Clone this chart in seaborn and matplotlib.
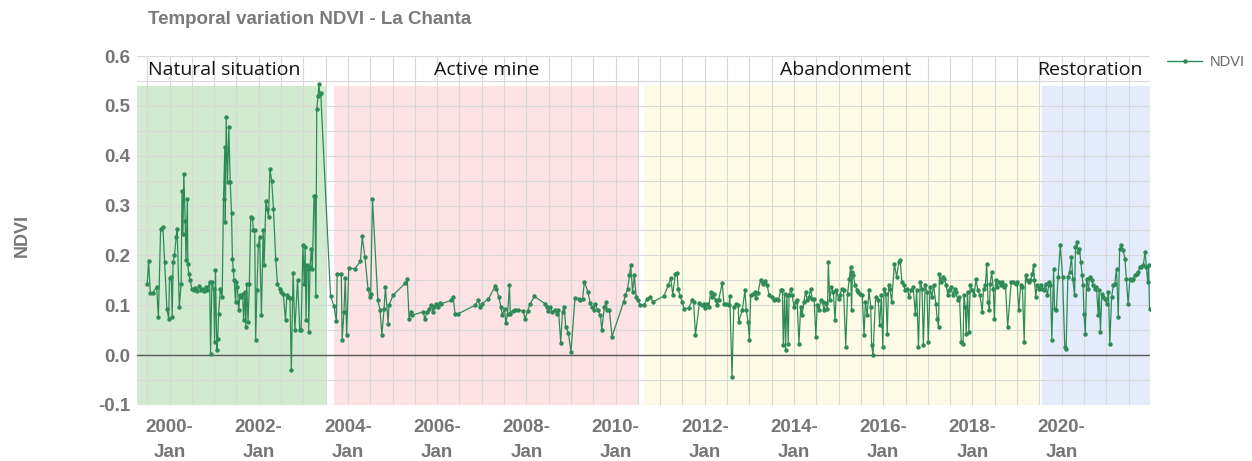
import matplotlib
matplotlib.use("Agg")
import matplotlib.pyplot as plt
from matplotlib.lines import Line2D
from matplotlib.ticker import MultipleLocator
import numpy as np
import pandas as pd
import seaborn as sns

# NDVI series, decimal years, split by period
years_natural = [
    1999.50, 1999.53, 1999.57, 1999.62, 1999.71, 1999.75, 1999.80, 1999.85, 1999.89, 1999.94,
    1999.98, 2000.00, 2000.04, 2000.06, 2000.08, 2000.11, 2000.15, 2000.17, 2000.22, 2000.26,
    2000.28, 2000.30, 2000.32, 2000.35, 2000.37, 2000.40, 2000.41, 2000.43, 2000.46, 2000.50,
    2000.55, 2000.58, 2000.62, 2000.66, 2000.70, 2000.73, 2000.77, 2000.81, 2000.85, 2000.90,
    2000.92, 2000.95, 2000.99, 2001.01, 2001.03, 2001.06, 2001.08, 2001.10, 2001.14, 2001.18,
    2001.21, 2001.24, 2001.25, 2001.27, 2001.30, 2001.33, 2001.36, 2001.39, 2001.41, 2001.43,
    2001.45, 2001.48, 2001.50, 2001.52, 2001.55, 2001.58, 2001.61, 2001.64, 2001.66, 2001.69,
    2001.71, 2001.73, 2001.76, 2001.79, 2001.82, 2001.86, 2001.88, 2001.91, 2001.93, 2001.96,
    2001.99, 2002.02, 2002.06, 2002.10, 2002.12, 2002.16, 2002.19, 2002.22, 2002.25, 2002.29,
    2002.33, 2002.38, 2002.42, 2002.47, 2002.51, 2002.55, 2002.60, 2002.63, 2002.66, 2002.70,
    2002.73, 2002.77, 2002.81, 2002.87, 2002.92, 2002.95, 2002.99, 2003.02, 2003.04, 2003.06,
    2003.08, 2003.11, 2003.12, 2003.15, 2003.18, 2003.20, 2003.24, 2003.26, 2003.28, 2003.30,
    2003.33, 2003.35, 2003.37, 2003.39,
]
ndvi_natural = [
    0.143, 0.188, 0.124, 0.124, 0.137, 0.077, 0.253, 0.257, 0.187, 0.093,
    0.073, 0.154, 0.157, 0.077, 0.187, 0.200, 0.237, 0.253, 0.097, 0.143,
    0.330, 0.243, 0.363, 0.270, 0.190, 0.313, 0.183, 0.163, 0.150, 0.133,
    0.130, 0.135, 0.129, 0.138, 0.131, 0.133, 0.129, 0.137, 0.131, 0.147,
    0.003, 0.147, 0.133, 0.027, 0.170, 0.010, 0.033, 0.083, 0.133, 0.117,
    0.313, 0.417, 0.267, 0.477, 0.347, 0.457, 0.347, 0.285, 0.193, 0.170,
    0.150, 0.107, 0.147, 0.137, 0.090, 0.120, 0.117, 0.123, 0.070, 0.127,
    0.057, 0.143, 0.067, 0.143, 0.277, 0.275, 0.250, 0.250, 0.030, 0.130,
    0.220, 0.237, 0.080, 0.250, 0.180, 0.310, 0.293, 0.277, 0.373, 0.350,
    0.293, 0.193, 0.143, 0.133, 0.127, 0.123, 0.070, 0.120, 0.117, 0.115,
    -0.030, 0.165, 0.050, 0.151, 0.050, 0.050, 0.220, 0.143, 0.217, 0.070,
    0.180, 0.173, 0.047, 0.177, 0.213, 0.173, 0.320, 0.320, 0.118, 0.493,
    0.520, 0.543, 0.523, 0.525,
]

years_active = [
    2003.61, 2003.69, 2003.74, 2003.76, 2003.85, 2003.87, 2003.91, 2003.94, 2003.97, 2004.02,
    2004.15, 2004.28, 2004.32, 2004.38, 2004.45, 2004.49, 2004.51, 2004.55, 2004.67, 2004.72,
    2004.76, 2004.81, 2004.84, 2004.90, 2004.92, 2005.01, 2005.29, 2005.33, 2005.37, 2005.41,
    2005.44, 2005.69, 2005.72, 2005.78, 2005.82, 2005.87, 2005.91, 2005.94, 2005.98, 2006.02,
    2006.06, 2006.09, 2006.32, 2006.36, 2006.40, 2006.47, 2006.85, 2006.92, 2006.96, 2007.01,
    2007.15, 2007.30, 2007.33, 2007.38, 2007.43, 2007.46, 2007.51, 2007.54, 2007.58, 2007.62,
    2007.64, 2007.69, 2007.75, 2007.82, 2007.93, 2007.97, 2008.03, 2008.08, 2008.18, 2008.42,
    2008.46, 2008.49, 2008.53, 2008.58, 2008.64, 2008.68, 2008.72, 2008.77, 2008.81, 2008.85,
    2008.88, 2008.94, 2009.00, 2009.09, 2009.17, 2009.20, 2009.26, 2009.30, 2009.38, 2009.43,
    2009.47, 2009.51, 2009.54, 2009.60, 2009.66, 2009.69, 2009.75, 2009.79, 2009.81, 2009.86,
    2009.92, 2010.18, 2010.22, 2010.27, 2010.31, 2010.34, 2010.38, 2010.42, 2010.46, 2010.50,
    2010.55,
]
ndvi_active = [
    0.118, 0.098, 0.068, 0.163, 0.163, 0.031, 0.087, 0.155, 0.040, 0.175,
    0.173, 0.188, 0.238, 0.197, 0.133, 0.117, 0.122, 0.313, 0.110, 0.090,
    0.040, 0.093, 0.137, 0.063, 0.100, 0.120, 0.145, 0.152, 0.073, 0.087,
    0.080, 0.087, 0.073, 0.087, 0.093, 0.100, 0.087, 0.097, 0.103, 0.097,
    0.105, 0.103, 0.110, 0.117, 0.083, 0.083, 0.100, 0.110, 0.097, 0.103,
    0.113, 0.138, 0.133, 0.117, 0.097, 0.080, 0.093, 0.065, 0.083, 0.140,
    0.083, 0.089, 0.090, 0.090, 0.089, 0.073, 0.089, 0.102, 0.118, 0.103,
    0.097, 0.089, 0.097, 0.087, 0.091, 0.083, 0.090, 0.025, 0.087, 0.097,
    0.057, 0.045, 0.007, 0.115, 0.113, 0.110, 0.113, 0.147, 0.127, 0.105,
    0.097, 0.090, 0.103, 0.090, 0.080, 0.051, 0.097, 0.107, 0.090, 0.091,
    0.037, 0.107, 0.120, 0.133, 0.160, 0.180, 0.127, 0.160, 0.117, 0.110,
    0.100,
]

years_abandon = [
    2010.63, 2010.71, 2010.78, 2010.83, 2011.08, 2011.18, 2011.24, 2011.28, 2011.34, 2011.38,
    2011.40, 2011.45, 2011.49, 2011.54, 2011.64, 2011.72, 2011.75, 2011.79, 2011.88, 2011.93,
    2011.98, 2012.01, 2012.05, 2012.09, 2012.13, 2012.17, 2012.20, 2012.24, 2012.28, 2012.31,
    2012.39, 2012.43, 2012.48, 2012.54, 2012.56, 2012.61, 2012.65, 2012.70, 2012.75, 2012.76,
    2012.84, 2012.90, 2012.93, 2012.97, 2013.00, 2013.03, 2013.08, 2013.12, 2013.15, 2013.19,
    2013.25, 2013.30, 2013.35, 2013.40, 2013.44, 2013.50, 2013.55, 2013.60, 2013.65, 2013.70,
    2013.74, 2013.76, 2013.79, 2013.81, 2013.84, 2013.87, 2013.89, 2013.93, 2013.96, 2014.00,
    2014.04, 2014.07, 2014.11, 2014.15, 2014.18, 2014.22, 2014.26, 2014.30, 2014.34, 2014.37,
    2014.41, 2014.45, 2014.49, 2014.52, 2014.56, 2014.60, 2014.64, 2014.67, 2014.71, 2014.75,
    2014.77, 2014.80, 2014.84, 2014.88, 2014.92, 2014.95, 2015.00, 2015.03, 2015.07, 2015.11,
    2015.16, 2015.20, 2015.24, 2015.27, 2015.29, 2015.31, 2015.33, 2015.37, 2015.41, 2015.44,
    2015.48, 2015.53, 2015.57, 2015.60, 2015.64, 2015.68, 2015.72, 2015.74, 2015.77, 2015.83,
    2015.89, 2015.92, 2015.96, 2015.99, 2016.02, 2016.06, 2016.09, 2016.12, 2016.15, 2016.19,
    2016.25, 2016.30, 2016.35, 2016.38, 2016.42, 2016.46, 2016.49, 2016.54, 2016.58, 2016.62,
    2016.67, 2016.72, 2016.75, 2016.79, 2016.83, 2016.87, 2016.90, 2016.94, 2016.98, 2017.01,
    2017.05, 2017.09, 2017.13, 2017.18, 2017.21, 2017.24, 2017.26, 2017.30, 2017.33, 2017.37,
    2017.41, 2017.45, 2017.48, 2017.52, 2017.56, 2017.60, 2017.63, 2017.67, 2017.71, 2017.75,
    2017.79, 2017.81, 2017.84, 2017.86, 2017.89, 2017.92, 2017.95, 2018.00, 2018.04, 2018.08,
    2018.12, 2018.17, 2018.22, 2018.25, 2018.29, 2018.32, 2018.35, 2018.38, 2018.40, 2018.43,
    2018.47, 2018.49, 2018.52, 2018.55, 2018.59, 2018.63, 2018.66, 2018.70, 2018.74, 2018.79,
    2018.87, 2018.92, 2018.97, 2019.00, 2019.04, 2019.08, 2019.12, 2019.16, 2019.19, 2019.23,
    2019.27, 2019.30, 2019.34, 2019.37, 2019.39, 2019.42, 2019.45, 2019.49,
]
ndvi_abandon = [
    0.100, 0.113, 0.117, 0.107, 0.118, 0.140, 0.155, 0.120, 0.163, 0.165,
    0.133, 0.118, 0.107, 0.093, 0.095, 0.110, 0.107, 0.040, 0.105, 0.100,
    0.103, 0.095, 0.103, 0.097, 0.127, 0.117, 0.123, 0.110, 0.100, 0.110,
    0.145, 0.103, 0.102, 0.100, 0.118, -0.043, 0.097, 0.103, 0.100, 0.067,
    0.090, 0.130, 0.090, 0.067, 0.030, 0.120, 0.122, 0.127, 0.115, 0.125,
    0.150, 0.142, 0.149, 0.140, 0.120, 0.117, 0.111, 0.113, 0.110, 0.130,
    0.131, 0.020, 0.123, 0.011, 0.120, 0.023, 0.120, 0.133, 0.120, 0.097,
    0.107, 0.110, 0.023, 0.097, 0.080, 0.107, 0.127, 0.110, 0.117, 0.133,
    0.113, 0.113, 0.037, 0.100, 0.090, 0.110, 0.107, 0.090, 0.105, 0.093,
    0.187, 0.110, 0.137, 0.127, 0.070, 0.130, 0.113, 0.120, 0.133, 0.130,
    0.017, 0.123, 0.153, 0.177, 0.090, 0.167, 0.160, 0.140, 0.130, 0.127,
    0.123, 0.120, 0.040, 0.107, 0.080, 0.130, 0.097, 0.020, 0.000, 0.117,
    0.110, 0.060, 0.120, 0.017, 0.133, 0.123, 0.043, 0.140, 0.133, 0.107,
    0.183, 0.157, 0.187, 0.190, 0.147, 0.140, 0.130, 0.133, 0.117, 0.130,
    0.137, 0.083, 0.130, 0.017, 0.147, 0.133, 0.020, 0.140, 0.127, 0.027,
    0.137, 0.117, 0.140, 0.103, 0.073, 0.057, 0.163, 0.147, 0.157, 0.153,
    0.140, 0.120, 0.130, 0.137, 0.120, 0.133, 0.127, 0.110, 0.117, 0.027,
    0.023, 0.120, 0.097, 0.043, 0.127, 0.047, 0.140, 0.130, 0.120, 0.153,
    0.130, 0.120, 0.087, 0.133, 0.140, 0.183, 0.107, 0.090, 0.143, 0.167,
    0.133, 0.073, 0.150, 0.137, 0.147, 0.140, 0.147, 0.137, 0.140, 0.057,
    0.147, 0.147, 0.143, 0.147, 0.090, 0.140, 0.137, 0.027, 0.160, 0.150,
    0.147, 0.150, 0.163, 0.180, 0.150, 0.117, 0.140, 0.133,
]

years_restore = [
    2019.53, 2019.57, 2019.60, 2019.64, 2019.68, 2019.72, 2019.75, 2019.78, 2019.82, 2019.84,
    2019.88, 2019.92, 2019.97, 2020.02, 2020.07, 2020.10, 2020.14, 2020.18, 2020.22, 2020.25,
    2020.29, 2020.31, 2020.34, 2020.37, 2020.40, 2020.43, 2020.46, 2020.48, 2020.50, 2020.53,
    2020.56, 2020.60, 2020.63, 2020.67, 2020.71, 2020.74, 2020.78, 2020.82, 2020.84, 2020.87,
    2020.90, 2020.93, 2020.97, 2021.01, 2021.05, 2021.08, 2021.12, 2021.16, 2021.19, 2021.23,
    2021.27, 2021.30, 2021.34, 2021.38, 2021.42, 2021.45, 2021.49, 2021.53, 2021.57, 2021.60,
    2021.64, 2021.68, 2021.72, 2021.75, 2021.79, 2021.83, 2021.87, 2021.90, 2021.93, 2021.95,
    2021.97,
]
ndvi_restore = [
    0.140, 0.133, 0.130, 0.143, 0.120, 0.147, 0.140, 0.030, 0.173, 0.093,
    0.090, 0.157, 0.220, 0.157, 0.017, 0.013, 0.157, 0.167, 0.197, 0.153,
    0.120, 0.217, 0.227, 0.207, 0.213, 0.187, 0.160, 0.140, 0.083, 0.043,
    0.153, 0.133, 0.157, 0.150, 0.140, 0.133, 0.137, 0.080, 0.130, 0.047,
    0.123, 0.117, 0.113, 0.103, 0.127, 0.023, 0.117, 0.140, 0.143, 0.173,
    0.077, 0.213, 0.220, 0.210, 0.193, 0.153, 0.103, 0.153, 0.150, 0.153,
    0.160, 0.163, 0.167, 0.177, 0.177, 0.180, 0.207, 0.177, 0.147, 0.180,
    0.093,
]

# shaded periods
period_names = ["Natural situation", "Active mine", "Abandonment", "Restoration"]
period_start = [1999.27, 2003.69, 2010.63, 2019.55]
period_end = [2003.50, 2010.52, 2019.50, 2021.98]
period_colors = ["#d2ebd0", "#fde3e4", "#fefce6", "#e4ecfc"]
label_x = [2001.22, 2007.10, 2015.15, 2020.64]

df = pd.DataFrame({
    "year": years_natural + years_active + years_abandon + years_restore,
    "ndvi": ndvi_natural + ndvi_active + ndvi_abandon + ndvi_restore,
})

sns.set_theme(style="white")
plt.rcParams["font.family"] = ["Liberation Sans", "DejaVu Sans"]

GREY = "#767676"
LINE = "#2e8b57"

fig = plt.figure(figsize=(12.52, 4.61), dpi=100)
ax = fig.add_axes([0.1094, 0.1215, 0.8091, 0.757])

for name, x0, x1, c, lx in zip(period_names, period_start, period_end, period_colors, label_x):
    ax.axvspan(x0, x1, ymin=0, ymax=(0.54 + 0.1) / 0.7, color=c, lw=0, zorder=0.5)
    ax.text(lx, 0.571, name, ha="center", va="center",
            fontsize=14, family=["Open Sans", "DejaVu Sans"], color="#151515")

sns.lineplot(data=df, x="year", y="ndvi", ax=ax, estimator=None, sort=False,
             color=LINE, linewidth=0.9, marker="o", markersize=3.2,
             markeredgewidth=0, legend=False, zorder=3)

ax.axhline(0, color="#5a5a5a", lw=1.0, zorder=2.8)

ax.set_xlim(1999.27, 2021.98)
ax.set_ylim(-0.1, 0.6)
ax.set_xticks(range(2000, 2021, 2))
ax.set_xticklabels([f"{y}-\nJan" for y in range(2000, 2021, 2)])
ax.xaxis.set_minor_locator(MultipleLocator(0.5))
ax.yaxis.set_major_locator(MultipleLocator(0.1))
ax.yaxis.set_minor_locator(MultipleLocator(0.05))
ax.set_yticklabels([f"{v:.1f}" for v in ax.get_yticks()])
ax.set_axisbelow(False)
ax.grid(which="both", color="#d8d8d8", lw=0.8)
for s in ax.spines.values():
    s.set_visible(False)
ax.tick_params(which="both", length=0)
ax.tick_params(axis="y", pad=5, labelsize=13.5, labelcolor=GREY)
ax.tick_params(axis="x", pad=10, labelsize=13.5, labelcolor=GREY)
for lab in ax.get_xticklabels() + ax.get_yticklabels():
    lab.set_fontweight("bold")
for lab in ax.get_xticklabels():
    lab.set_linespacing(1.6)
ax.set_xlabel("")
ax.set_ylabel("")

fig.text(0.0176, 0.49, "NDVI", rotation=90, ha="center", va="center",
         fontsize=13, fontweight="bold", color=GREY)
fig.text(0.118, 0.957, "Temporal variation NDVI - La Chanta", ha="left", va="center",
         fontsize=13.5, fontweight="bold", color="#7a7a7a")

handle = Line2D([], [], color=LINE, lw=1, marker="o", markersize=3.2, markeredgewidth=0)
fig.legend([handle], ["NDVI"], loc="center left", bbox_to_anchor=(0.922, 0.866),
           frameon=False, fontsize=10.5, handlelength=2.4, handletextpad=0.5,
           labelcolor="#666666")

fig.savefig("out.png", dpi=100)
